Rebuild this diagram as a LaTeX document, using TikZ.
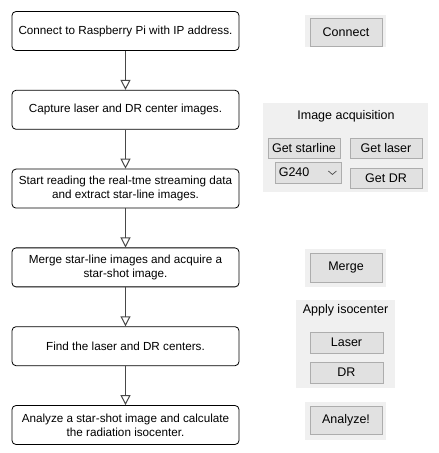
\documentclass[tikz,border=0pt]{standalone}
\usepackage{fontspec}
\setmainfont{Liberation Sans}
\usetikzlibrary{positioning,arrows.meta}
\definecolor{panelgray}{HTML}{F0F0F0}
\definecolor{btngray}{HTML}{E1E1E1}
\definecolor{btnline}{HTML}{ADADAD}

\begin{document}
\begin{tikzpicture}[x=1pt,y=1pt,
node distance=39pt,
stepbox/.style={draw,rounded corners=4pt,line width=0.8pt,minimum width=227pt,minimum height=39pt,
    align=center,font=\fontsize{11.7}{14}\selectfont,inner sep=2pt},
arr/.style={draw=black!72,line width=1pt,-{Triangle[open,length=10pt,width=10pt]}},
panel/.style={fill=panelgray,inner sep=0},
btn/.style={draw=btnline,fill=btngray,line width=0.8pt,inner sep=0,font=\fontsize{12.5}{15}\selectfont},
ttl/.style={inner sep=0,font=\fontsize{12.5}{15}\selectfont}]
\useasboundingbox (0,0) rectangle (439,453);

% flow chart
\node (connect) [stepbox] at (125.5,422) {Connect to Raspberry Pi with IP address.};
\node (capture) [stepbox,below=of connect] {Capture laser and DR center images.};
\node (stream) [stepbox,below=of capture] {Start reading the real-tme streaming data\\ and extract star-line images.};
\node (merge) [stepbox,below=of stream] {Merge star-line images and acquire a\\ star-shot image.};
\node (find) [stepbox,below=of merge] {Find the laser and DR centers.};
\node (analyze) [stepbox,below=of find] {Analyze a star-shot image and calculate\\ the radiation isocenter.};

\draw [arr] (connect) -- (capture);
\draw [arr] (capture) -- (stream);
\draw [arr] (stream) -- (merge);
\draw [arr] (merge) -- (find);
\draw [arr] (find) -- (analyze);

% panels of the program
\node (connpanel) [panel,minimum width=81pt,minimum height=32pt] at (345.5,422) {};
\node (connbtn) [btn,minimum width=72pt,minimum height=28pt] at (346,421) {Connect};

\node (acqpanel) [panel,minimum width=165pt,minimum height=89pt] at (345.5,305.5) {};
\node (acqtitle) [ttl] at (346,337) {Image acquisition};
\node (starbtn) [btn,minimum width=72pt,minimum height=20pt] at (304,305) {Get starline};
\node (laserbtn) [btn,minimum width=72pt,minimum height=20pt] at (386,305) {Get laser};
\node (combo) [btn,minimum width=66pt,minimum height=21pt] at (308,280.5) {};
\node (combotxt) [ttl,anchor=west] at ([xshift=4pt]combo.west) {G240};
\draw [black!70,line width=0.7pt] ([xshift=-13pt,yshift=1.5pt]combo.east) -- ([xshift=-9pt,yshift=-2pt]combo.east)
    -- ([xshift=-5pt,yshift=1.5pt]combo.east);
\node (drbtn) [btn,minimum width=72pt,minimum height=20pt] at (386,275) {Get DR};

\node (mergepanel) [panel,minimum width=81pt,minimum height=38pt] at (345.5,185) {};
\node (mergebtn) [btn,minimum width=72pt,minimum height=29pt] at (346,185.5) {Merge};

\node (isopanel) [panel,minimum width=99pt,minimum height=88pt] at (345.5,109) {};
\node (isotitle) [ttl] at (345.5,143) {Apply isocenter};
\node (isolaser) [btn,minimum width=73pt,minimum height=21pt] at (346.5,110.5) {Laser};
\node (isodr) [btn,minimum width=73pt,minimum height=21pt] at (346.5,80.5) {DR};

\node (anapanel) [panel,minimum width=81pt,minimum height=38pt] at (345.5,32) {};
\node (anabtn) [btn,minimum width=72pt,minimum height=28pt] at (346,33) {Analyze!};
\end{tikzpicture}
\end{document}
